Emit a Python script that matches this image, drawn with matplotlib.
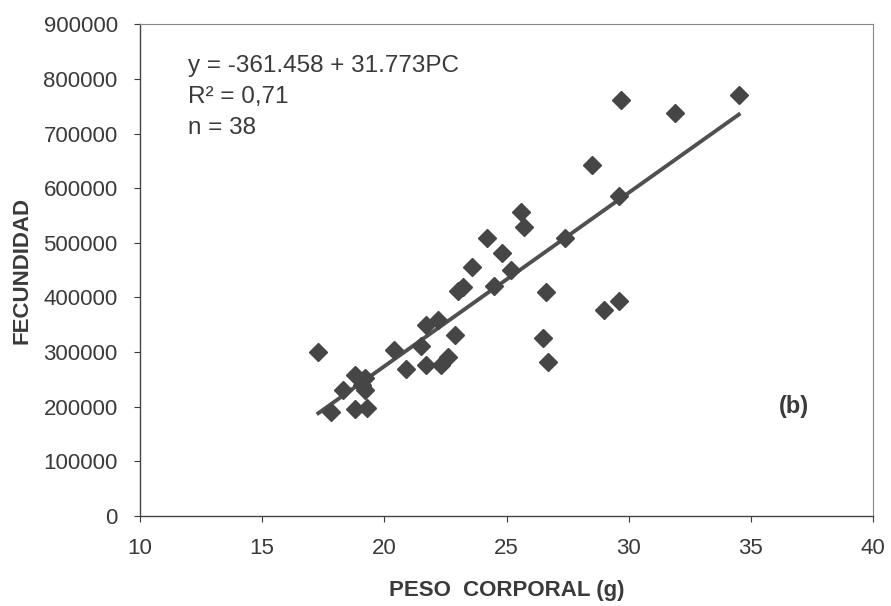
import numpy as np
import matplotlib.pyplot as plt

# Datos (peso corporal en g, fecundidad)
peso = [17.3, 17.8, 18.3, 18.8, 18.8, 19.2, 19.2, 19.1, 19.3, 20.4,
        20.9, 21.5, 21.7, 21.7, 22.2, 22.3, 22.6, 22.9, 23.0, 23.2,
        23.6, 24.2, 24.5, 24.8, 25.2, 25.6, 25.7, 27.4, 26.6, 26.5,
        26.7, 28.5, 29.0, 29.6, 29.6, 29.7, 31.9, 34.5]
fecundidad = [300000, 190000, 230000, 258000, 196000, 252000, 230000, 240000, 198000, 304000,
              269000, 311000, 349000, 276000, 358000, 276000, 291000, 331000, 412000, 419000,
              455000, 508000, 421000, 481000, 450000, 556000, 529000, 508000, 410000, 326000,
              282000, 642000, 377000, 394000, 586000, 761000, 737000, 770000]

# Recta de regresion indicada en el grafico
a = -361458
b = 31773

plt.rcParams['font.family'] = ['Liberation Sans', 'DejaVu Sans']

fig = plt.figure(figsize=(8.91, 6.06), dpi=100)
ax = fig.add_axes([0.157, 0.1485, 0.823, 0.8115])

ax.plot(peso, fecundidad, 'D', color='#464646', markersize=9, zorder=3)
xl = np.array([min(peso), max(peso)])
ax.plot(xl, a + b * xl, color='#505050', linewidth=2.8, zorder=2)

ax.set_xlim(10, 40)
ax.set_ylim(0, 900000)
ax.set_xticks(range(10, 41, 5))
ax.set_yticks(range(0, 900001, 100000))
ax.tick_params(labelsize=16, colors='#3a3a3a', length=4, width=0.8)
ax.tick_params(axis='x', pad=12)
ax.tick_params(axis='y', pad=12)

for s in ['left', 'bottom']:
    ax.spines[s].set_color('#444444')
    ax.spines[s].set_linewidth(1.0)
for s in ['top', 'right']:
    ax.spines[s].set_color('#888888')
    ax.spines[s].set_linewidth(0.8)

ax.set_xlabel('PESO  CORPORAL (g)', fontsize=16, fontweight='bold', color='#3a3a3a', labelpad=15)
ax.set_ylabel('FECUNDIDAD', fontsize=16, fontweight='bold', color='#3a3a3a', labelpad=8)

ax.text(0.065, 0.937, 'y = -361.458 + 31.773PC\nR² = 0,71\nn = 38',
        transform=ax.transAxes, fontsize=17.5, color='#3a3a3a',
        va='top', ha='left', linespacing=1.52)
ax.text(0.872, 0.222, '(b)', transform=ax.transAxes, fontsize=17,
        fontweight='bold', color='#3a3a3a', ha='left', va='center')

fig.savefig('out.png', dpi=100)
